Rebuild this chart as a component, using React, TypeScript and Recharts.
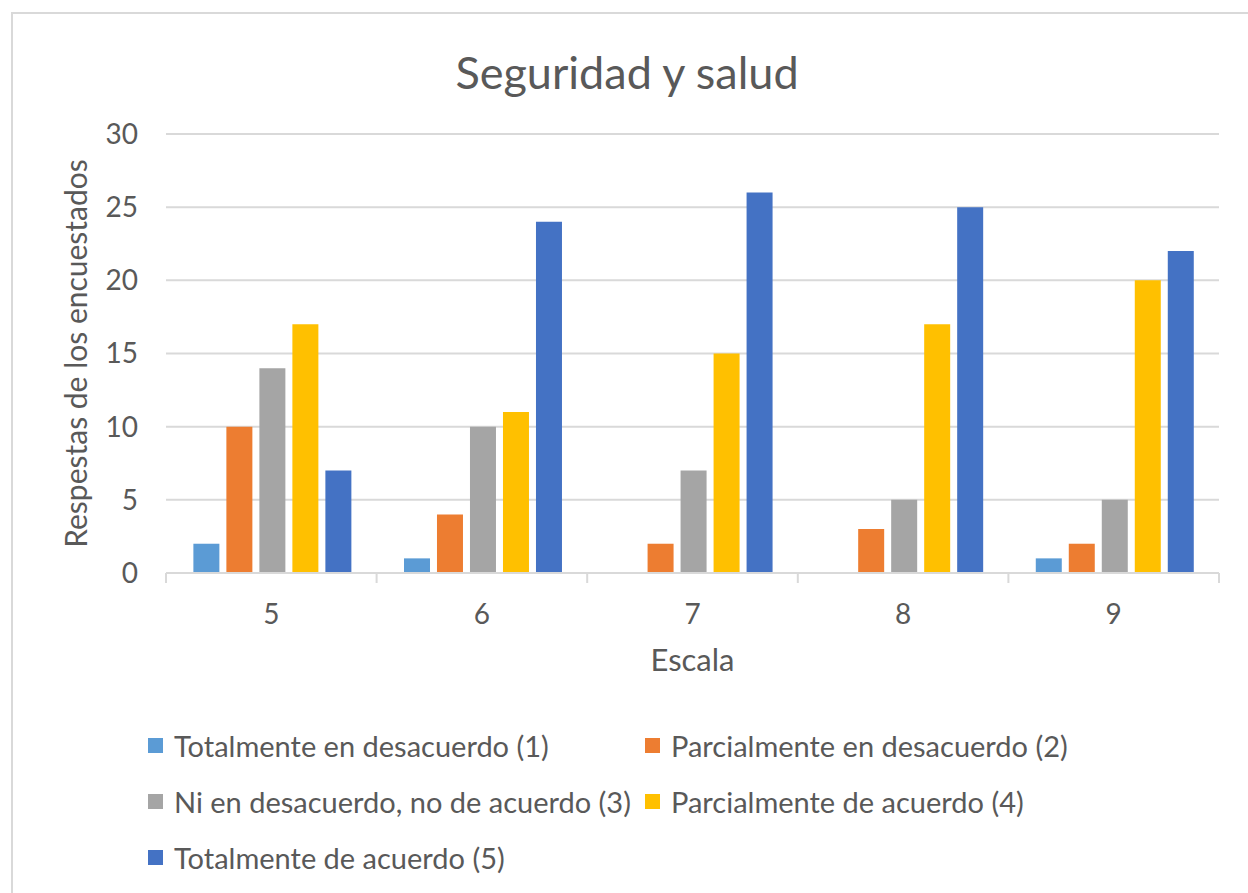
import React from 'react';
import { BarChart, Bar, XAxis, YAxis, CartesianGrid, Legend } from 'recharts';

const categories = ['5', '6', '7', '8', '9'];
const totalDesacuerdo = [2, 1, 0, 0, 1];
const parcialDesacuerdo = [10, 4, 2, 3, 2];
const niNi = [14, 10, 7, 5, 5];
const parcialAcuerdo = [17, 11, 15, 17, 20];
const totalAcuerdo = [7, 24, 26, 25, 22];
const yTicks = [0, 5, 10, 15, 20, 25, 30];

const seriesNames = [
  'Totalmente en desacuerdo (1)',
  'Parcialmente en desacuerdo (2)',
  'Ni en desacuerdo, no de acuerdo (3)',
  'Parcialmente de acuerdo (4)',
  'Totalmente de acuerdo (5)',
];
const seriesColors = ['#5B9BD5', '#ED7D31', '#A5A5A5', '#FFC000', '#4472C4'];
const seriesValues = [totalDesacuerdo, parcialDesacuerdo, niNi, parcialAcuerdo, totalAcuerdo];
const seriesKeys = ['s1', 's2', 's3', 's4', 's5'];

const data = categories.map((c, i) => {
  const row: any = { cat: c };
  seriesKeys.forEach((k, j) => {
    row[k] = seriesValues[j][i];
  });
  return row;
});

const FONT = 'Lato, "Noto Sans", sans-serif';
const TEXT = '#595959';
const GRID = '#d9d9d9';

const XTick = (props: any) => {
  const { x, y, payload, index, visibleTicksCount } = props;
  const off = payload.offset || 0;
  return (
    <g>
      <line x1={x - off} y1={y} x2={x - off} y2={y + 10} stroke={GRID} strokeWidth={2} />
      {index === visibleTicksCount - 1 && (
        <line x1={x + off} y1={y} x2={x + off} y2={y + 10} stroke={GRID} strokeWidth={2} />
      )}
      <text x={x} y={y + 40} textAnchor="middle" dominantBaseline="central" fill={TEXT} fontSize={28} fontFamily={FONT}>
        {payload.value}
      </text>
    </g>
  );
};

const YLabel = (props: any) => {
  const vb = props.viewBox || { x: 0, y: 0, width: 0, height: 0 };
  const cx = vb.x + 35;
  const cy = vb.y + vb.height / 2;
  return (
    <text x={cx} y={cy} transform={`rotate(-90 ${cx} ${cy})`} textAnchor="middle" dominantBaseline="central" fill={TEXT} fontSize={30} fontFamily={FONT}>
      Respestas de los encuestados
    </text>
  );
};

const XLabel = (props: any) => {
  const vb = props.viewBox || { x: 0, y: 0, width: 0, height: 0 };
  const cx = vb.x + vb.width / 2;
  const cy = vb.y + 86;
  return (
    <text x={cx} y={cy} textAnchor="middle" dominantBaseline="central" fill={TEXT} fontSize={31} fontFamily={FONT}>
      Escala
    </text>
  );
};

const LegendContent = () => {
  return (
    <div style={{ position: 'relative', width: 1248, height: 168, fontFamily: FONT }}>
      {seriesNames.map((name, i) => {
        const col = i % 2;
        const row = Math.floor(i / 2);
        return (
          <div
            key={name}
            style={{
              position: 'absolute',
              left: col === 0 ? 148 : 645,
              top: row * 56,
              height: 56,
              display: 'flex',
              alignItems: 'center',
              whiteSpace: 'nowrap',
            }}
          >
            <span style={{ display: 'inline-block', width: 15, height: 15, background: seriesColors[i], marginRight: 11 }} />
            <span style={{ fontSize: 29, color: TEXT }}>{name}</span>
          </div>
        );
      })}
    </div>
  );
};

export default function App() {
  return (
    <div style={{ position: 'absolute', left: 0, top: 0, width: 1248, height: 893, overflow: 'hidden', background: '#fff' }}>
      <div
        style={{
          position: 'absolute',
          left: 11,
          top: 12,
          width: 1270,
          height: 920,
          border: `2px solid ${GRID}`,
          boxSizing: 'border-box',
        }}
      />
      <div
        style={{
          position: 'absolute',
          left: 0,
          top: 44,
          width: 1254,
          textAlign: 'center',
          fontFamily: FONT,
          fontSize: 45,
          lineHeight: '56px',
          color: TEXT,
        }}
      >
        Seguridad y salud
      </div>
      <div style={{ position: 'absolute', left: 0, top: 0 }}>
        <BarChart
          width={1248}
          height={893}
          data={data}
          margin={{ top: 134, right: 29, left: 40, bottom: 220 }}
          barCategoryGap="13%"
          barGap={7}
        >
          <CartesianGrid vertical={false} stroke={GRID} strokeWidth={2} />
          <XAxis
            dataKey="cat"
            height={100}
            axisLine={{ stroke: GRID, strokeWidth: 2 }}
            tickLine={false}
            tickSize={0}
            tickMargin={0}
            tick={<XTick />}
            interval={0}
            label={<XLabel />}
          />
          <YAxis
            width={126}
            domain={[0, 30]}
            ticks={yTicks}
            axisLine={false}
            tickLine={false}
            tickSize={0}
            tickMargin={28}
            tick={{ fill: TEXT, fontSize: 28, fontFamily: FONT }}
            label={<YLabel />}
          />
          <Legend
            layout="horizontal"
            verticalAlign="middle"
            align="center"
            content={<LegendContent />}
            wrapperStyle={{ top: 717, left: 0, width: 1248 }}
          />
          {seriesKeys.map((k, j) => (
            <Bar key={k} dataKey={k} name={seriesNames[j]} fill={seriesColors[j]} isAnimationActive={false} />
          ))}
        </BarChart>
      </div>
    </div>
  );
}
